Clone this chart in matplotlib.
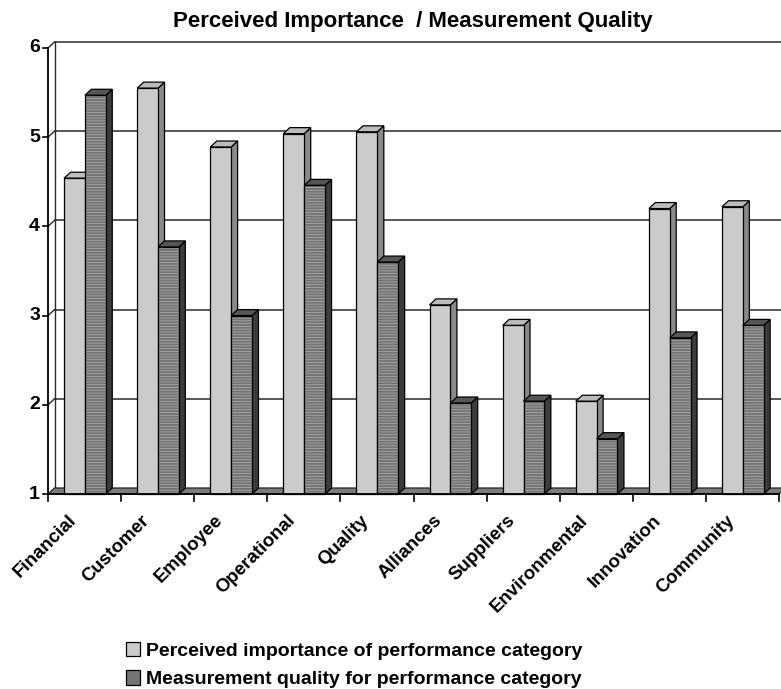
import matplotlib
matplotlib.use("Agg")
from matplotlib import pyplot as plt
from matplotlib.patches import Polygon, Patch

plt.rcParams['font.family'] = ['Liberation Sans', 'DejaVu Sans']
plt.rcParams['font.weight'] = 'bold'

categories = ['Financial', 'Customer', 'Employee', 'Operational', 'Quality',
              'Alliances', 'Suppliers', 'Environmental', 'Innovation',
              'Community']
importance = [4.54, 5.55, 4.89, 5.04, 5.06, 3.12, 2.89, 2.04, 4.20, 4.22]
quality = [5.47, 3.77, 3.00, 4.46, 3.60, 2.02, 2.04, 1.62, 2.75, 2.89]
yticks = [1, 2, 3, 4, 5, 6]

title = 'Perceived Importance  / Measurement Quality'
series_names = ['Perceived importance of performance category',
                'Measurement quality for performance category']

W, H = 781, 689
fig = plt.figure(figsize=(W / 100, H / 100), dpi=100)

# pixel scale of the plot: one category = 73.1 px, one unit = 89.2 px
px_x = 73.1
px_y = 89.2
x0, x1 = -0.2, (781 - 48) / px_x
y0, y1 = 0.9, 6.2
left_px = 48 + x0 * px_x
ax = fig.add_axes([left_px / W, (H - (494 + (1 - y0) * px_y)) / H,
                   (x1 - x0) * px_x / W, (y1 - y0) * px_y / H])
ax.set_xlim(x0, x1)
ax.set_ylim(y0, y1)
ax.axis('off')

# 3d depth offset (about 6-7 px)
dx = 6.5 / px_x
dy = 6.0 / px_y
n = len(categories)
ymin, ymax = yticks[0], yticks[-1]

# back wall gridlines and side wall
for v in yticks[1:]:
    ax.plot([dx, x1 + 1], [v + dy, v + dy], color='#2a2a2a', lw=1.1, zorder=1)
    ax.plot([0, dx], [v, v + dy], color='#2a2a2a', lw=1.0, zorder=1)
ax.plot([dx, dx], [ymin + dy, ymax + dy], color='#2a2a2a', lw=1.0, zorder=1)
ax.plot([0, 0], [ymin, ymax], color='black', lw=1.3, zorder=6, clip_on=False)

# floor
floor = Polygon([(0, ymin), (n, ymin), (n + dx, ymin + dy), (dx, ymin + dy)],
                closed=True, facecolor='#7c7c7c', edgecolor='#222222', lw=0.9,
                zorder=2)
ax.add_patch(floor)

# y ticks and labels
for v in yticks:
    ax.plot([-5.5 / px_x, 0], [v, v], color='black', lw=1.2, clip_on=False,
            zorder=6)
    ax.text(-8 / px_x, v, str(v), ha='right', va='center', fontsize=14,
            fontweight='bold')

# x axis line and category ticks
ax.plot([0, n], [ymin, ymin], color='black', lw=1.3, zorder=6)
for i in range(n + 1):
    ax.plot([i, i], [ymin, ymin - 7 / px_y], color='black', lw=1.2,
            clip_on=False, zorder=6)


def draw_bar(xl, width, val, front, side, top, hatched):
    xr = xl + width
    # side face
    ax.add_patch(Polygon([(xr, ymin), (xr + dx, ymin + dy), (xr + dx, val + dy),
                          (xr, val)], closed=True, facecolor=side,
                         edgecolor='black', lw=0.9, zorder=4))
    # top face
    ax.add_patch(Polygon([(xl, val), (xr, val), (xr + dx, val + dy),
                          (xl + dx, val + dy)], closed=True, facecolor=top,
                         edgecolor='black', lw=0.9, zorder=4))
    # front face
    if hatched:
        ax.bar(xl, val - ymin, width=width, bottom=ymin, align='edge',
               color=front, edgecolor='#a8a8a8', hatch='------', lw=0,
               zorder=4)
        ax.bar(xl, val - ymin, width=width, bottom=ymin, align='edge',
               fill=False, edgecolor='black', lw=0.9, zorder=4)
    else:
        ax.bar(xl, val - ymin, width=width, bottom=ymin, align='edge',
               color=front, edgecolor='black', lw=0.9, zorder=4)


plt.rcParams['hatch.linewidth'] = 0.6
bw = 0.285
for i in range(n):
    draw_bar(i + 0.22, bw, importance[i], '#cbcbcb', '#8a8a8a', '#bcbcbc',
             False)
    draw_bar(i + 0.22 + bw, bw, quality[i], '#747474', '#3c3c3c', '#565656',
             True)

# category labels
for i, name in enumerate(categories):
    ax.text(i + 0.27, ymin - 0.2, name, rotation=45, ha='right', va='top',
            rotation_mode='anchor', fontsize=13.5, fontweight='bold')

fig.text(413 / W, 1 - 21 / H, title, ha='center', va='center', fontsize=16,
         fontweight='bold')

handles = [Patch(facecolor='#cbcbcb', edgecolor='black', lw=0.9),
           Patch(facecolor='#747474', edgecolor='black', lw=0.9)]
fig.legend(handles, series_names, loc='upper left',
           bbox_to_anchor=(116 / W, 1 - 632 / H), frameon=False,
           handlelength=0.75, handleheight=0.75,
           handletextpad=0.3, labelspacing=0.55, borderpad=0,
           prop={'weight': 'bold', 'size': 14})

fig.savefig('out.png', dpi=100)
